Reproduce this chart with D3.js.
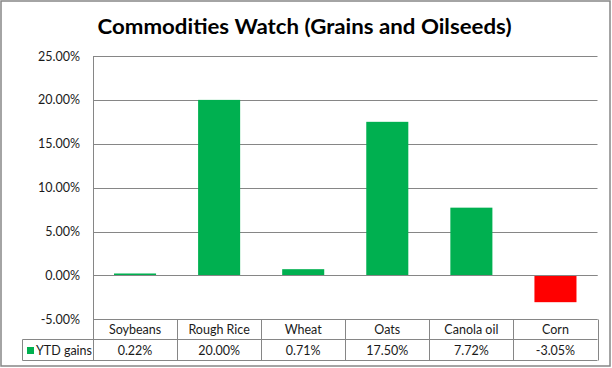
<!DOCTYPE html>
<html><head><meta charset="utf-8">
<script src="https://cdn.jsdelivr.net/npm/d3@7"></script>
<style>body{margin:0;background:#fff}svg{display:block}</style>
</head><body>
<svg id="c" width="612" height="368"></svg>
<script>
const categories = ["Soybeans", "Rough Rice", "Wheat", "Oats", "Canola oil", "Corn"];
const ytdGains = [0.22, 20.00, 0.71, 17.50, 7.72, -3.05];
const yTicks = [-5, 0, 5, 10, 15, 20, 25];
const seriesName = "YTD gains";
const title = "Commodities Watch (Grains and Oilseeds)";

const svg = d3.select("#c");
const font = "Lato, 'Open Sans', sans-serif";
const grey = "#868686";
const green = "#00B050", red = "#FF0000";
const pct = d => (d < 0 ? "-" : "") + Math.abs(d).toFixed(2) + "%";

// outer border
svg.append("rect").attr("x", 1).attr("y", 1).attr("width", 609).attr("height", 365)
  .attr("fill", "#fff").attr("stroke", grey).attr("stroke-width", 1.5);

svg.append("text").attr("x", 304.5).attr("y", 34).attr("text-anchor", "middle")
  .attr("font-family", font).attr("font-weight", "bold").attr("font-size", 21.5)
  .attr("fill", "#000").attr("textLength", 414).attr("lengthAdjust", "spacingAndGlyphs")
  .text(title);

const left = 93, right = 597.5;
const y = d3.scaleLinear().domain([-5, 25]).range([319.3, 56]);
const x = d3.scaleBand().domain(categories).range([left, right]).paddingInner(0.5).paddingOuter(0.25);

// gridlines
svg.append("g").selectAll("line").data(yTicks).join("line")
  .attr("x1", left).attr("x2", right)
  .attr("y1", d => Math.round(y(d)) + 0.5).attr("y2", d => Math.round(y(d)) + 0.5)
  .attr("stroke", grey).attr("stroke-width", 1);

// y axis labels
const yAxis = d3.axisLeft(y).tickValues(yTicks).tickSize(0).tickPadding(0).tickFormat(pct);
const ga = svg.append("g").attr("transform", `translate(80,0)`).call(yAxis);
ga.select(".domain").remove();
ga.selectAll("text").attr("font-family", font).attr("font-size", 12.5).attr("fill", "#1a1a1a");

// bars
svg.append("g").selectAll("rect").data(ytdGains).join("rect")
  .attr("x", (d, i) => x(categories[i]))
  .attr("width", x.bandwidth())
  .attr("y", d => Math.min(y(d), y(0)))
  .attr("height", d => Math.abs(y(d) - y(0)))
  .attr("fill", d => d < 0 ? red : green);

// zero line on top
svg.append("line").attr("x1", left).attr("x2", right)
  .attr("y1", Math.round(y(0)) + 0.5).attr("y2", Math.round(y(0)) + 0.5)
  .attr("stroke", grey);

// vertical axis line
svg.append("line").attr("x1", left + 0.5).attr("x2", left + 0.5).attr("y1", y(25)).attr("y2", 360)
  .attr("stroke", grey);

// data table
const rowTop = Math.round(y(-5)) + 0.5, rowMid = 339.5, rowBot = 360.5;
const step = x.step();
const t = svg.append("g").attr("stroke", grey).attr("fill", "none");
t.append("line").attr("x1", left).attr("x2", right).attr("y1", rowTop).attr("y2", rowTop);
t.append("line").attr("x1", 22.5).attr("x2", right).attr("y1", rowMid).attr("y2", rowMid);
t.append("line").attr("x1", 22.5).attr("x2", right).attr("y1", rowBot).attr("y2", rowBot);
t.append("line").attr("x1", 22.5).attr("x2", 22.5).attr("y1", rowMid).attr("y2", rowBot);
t.selectAll("line.v").data(d3.range(categories.length + 1)).join("line").attr("class", "v")
  .attr("x1", i => Math.round(left + i * step) + 0.5).attr("x2", i => Math.round(left + i * step) + 0.5)
  .attr("y1", rowTop).attr("y2", rowBot);

svg.append("g").selectAll("text").data(categories).join("text")
  .attr("x", d => x(d) + x.bandwidth() / 2).attr("y", 330).attr("dy", "0.35em")
  .attr("text-anchor", "middle").attr("font-family", font).attr("font-size", 12.5).attr("fill", "#1a1a1a")
  .text(d => d);
svg.append("g").selectAll("text").data(ytdGains).join("text")
  .attr("x", (d, i) => x(categories[i]) + x.bandwidth() / 2).attr("y", 350.5).attr("dy", "0.35em")
  .attr("text-anchor", "middle").attr("font-family", font).attr("font-size", 12.5).attr("fill", "#1a1a1a")
  .text(pct);

svg.append("rect").attr("x", 27).attr("y", 347).attr("width", 7).attr("height", 7).attr("fill", green);
svg.append("text").attr("x", 36).attr("y", 350.5).attr("dy", "0.35em")
  .attr("font-family", font).attr("font-size", 12.5).attr("fill", "#1a1a1a").text(seriesName);
</script>
</body></html>
